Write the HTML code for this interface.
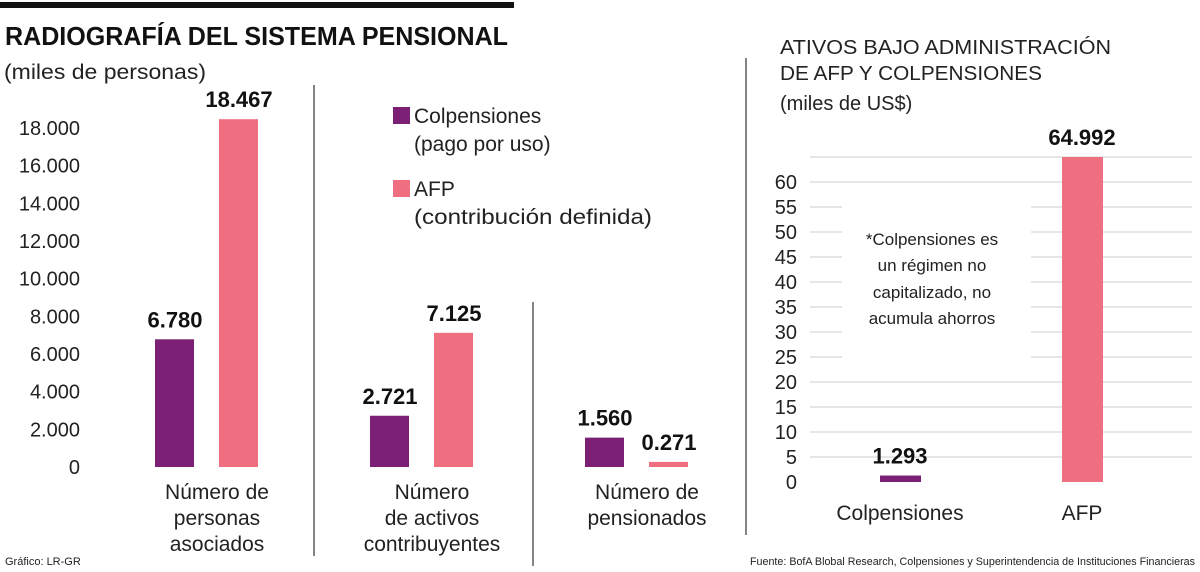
<!DOCTYPE html>
<html><head><meta charset="utf-8"><style>
body{margin:0;background:#fff}
svg{display:block;font-family:"Liberation Sans",sans-serif}
</style></head><body>
<svg id="c" width="1200" height="572" viewBox="0 0 1200 572">
<rect x="0" y="2" width="514" height="6" fill="#111"/>
<text x="5" y="45" font-size="26" font-weight="bold" textLength="503" lengthAdjust="spacingAndGlyphs" fill="#111">RADIOGRAFÍA DEL SISTEMA PENSIONAL</text>
<text x="4" y="79" font-size="21" textLength="202" lengthAdjust="spacingAndGlyphs" fill="#222">(miles de personas)</text>
<line x1="314" y1="85" x2="314" y2="556" stroke="#333" stroke-width="1.2"/>
<line x1="533" y1="302" x2="533" y2="566" stroke="#333" stroke-width="1.2"/>
<line x1="746" y1="58" x2="746" y2="535" stroke="#333" stroke-width="1.2"/>
<g>
<rect x="393" y="107" width="17" height="17" fill="#7b2074"/>
<text x="414" y="123" font-size="21" fill="#222">Colpensiones</text>
<text x="414" y="151" font-size="21" fill="#222">(pago por uso)</text>
<rect x="393" y="180" width="17" height="17" fill="#ef6e80"/>
<text x="414" y="196" font-size="21" fill="#222">AFP</text>
<text x="414" y="224" font-size="21" fill="#222" textLength="238" lengthAdjust="spacingAndGlyphs">(contribución definida)</text>
</g>
<text x="780" y="54" font-size="20" fill="#222" textLength="331" lengthAdjust="spacingAndGlyphs">ATIVOS BAJO ADMINISTRACIÓN</text>
<text x="780" y="80" font-size="20" fill="#222" textLength="262" lengthAdjust="spacingAndGlyphs">DE AFP Y COLPENSIONES</text>
<text x="780" y="110" font-size="20" fill="#222">(miles de US$)</text>
<g font-size="17" fill="#222" text-anchor="middle">
<text x="932" y="245">*Colpensiones es</text>
<text x="932" y="271">un régimen no</text>
<text x="932" y="298">capitalizado, no</text>
<text x="932" y="324">acumula ahorros</text>
</g>
<text x="5" y="565" font-size="11" fill="#222">Gráfico: LR-GR</text>
<text x="1195" y="565" font-size="11" fill="#222" text-anchor="end" textLength="445" lengthAdjust="spacingAndGlyphs">Fuente: BofA Blobal Research, Colpensiones y Superintendencia de Instituciones Financieras</text>
</svg>
<script>
const leftTicks=[0,2000,4000,6000,8000,10000,12000,14000,16000,18000];
const leftTickLabels=["0","2.000","4.000","6.000","8.000","10.000","12.000","14.000","16.000","18.000"];
const groups=[["Número de","personas","asociados"],["Número","de activos","contribuyentes"],["Número de","pensionados"]];
const colpValues=[6780,2721,1560];
const afpValues=[18467,7125,271];
const colpLabels=["6.780","2.721","1.560"];
const afpLabels=["18.467","7.125","0.271"];
const rightTicks=[0,5,10,15,20,25,30,35,40,45,50,55,60];
const rightCats=["Colpensiones","AFP"];
const rightValues=[1.293,64.992];
const rightLabels=["1.293","64.992"];

const svg=document.getElementById('c');
const NS='http://www.w3.org/2000/svg';
function mk(t,a,txt){const e=document.createElementNS(NS,t);for(const k in a)e.setAttribute(k,a[k]);if(txt!==undefined)e.textContent=txt;svg.appendChild(e);return e;}
const yL=v=>467-v*(467-128)/18000;
const yR=v=>482-v*(482-182)/60;

leftTicks.forEach((t,i)=>{const e=mk('text',{x:80,y:yL(t)+7,'font-size':20,fill:'#222','text-anchor':'end'},leftTickLabels[i]);

});
const gx=[155,370,585];
groups.forEach((g,i)=>{
 const x0=gx[i];
 let e=mk('rect',{x:x0,y:yL(colpValues[i]),width:39,height:yL(0)-yL(colpValues[i]),fill:'#7b2074'});
 
 
 e=mk('rect',{x:x0+64,y:yL(afpValues[i]),width:39,height:yL(0)-yL(afpValues[i]),fill:'#ef6e80'});
 
 
 e=mk('text',{x:x0+20,y:yL(colpValues[i])-12,'font-size':22,'font-weight':'bold',fill:'#111','text-anchor':'middle'},colpLabels[i]);
 
 
 e=mk('text',{x:x0+84,y:yL(afpValues[i])-12,'font-size':22,'font-weight':'bold',fill:'#111','text-anchor':'middle'},afpLabels[i]);
 
 
 g.forEach((l,j)=>{e=mk('text',{x:x0+62,y:499+j*26,'font-size':21,fill:'#222','text-anchor':'middle'},l);
 
 });
});

const gapTicks=[25,30,35,40,45,50,55];
rightTicks.concat([65]).forEach(t=>{
 const y=yR(t);
 if(t>0){
  if(gapTicks.includes(t)){
   let e=mk('line',{x1:810,x2:842,y1:y,y2:y,stroke:'#ccc','stroke-width':1});
   
   
   e=mk('line',{x1:1031,x2:1192,y1:y,y2:y,stroke:'#ccc','stroke-width':1});
   
   
  } else {
   const e=mk('line',{x1:810,x2:1192,y1:y,y2:y,stroke:'#ccc','stroke-width':1});
   
   
  }
 }
 if(t<=60){const e=mk('text',{x:797,y:y+7,'font-size':20,fill:'#222','text-anchor':'end'},String(t));
 
 }
});
const rx=[880,1062];
rightCats.forEach((c,i)=>{
 let e=mk('rect',{x:rx[i],y:yR(rightValues[i]),width:41,height:yR(0)-yR(rightValues[i]),fill:i?'#ef6e80':'#7b2074'});
 
 
 e=mk('text',{x:rx[i]+20,y:yR(rightValues[i])-12,'font-size':22,'font-weight':'bold',fill:'#111','text-anchor':'middle'},rightLabels[i]);
 
 
 e=mk('text',{x:rx[i]+20,y:520,'font-size':21,fill:'#222','text-anchor':'middle'},c);
 
 
});
</script>
</body></html>
